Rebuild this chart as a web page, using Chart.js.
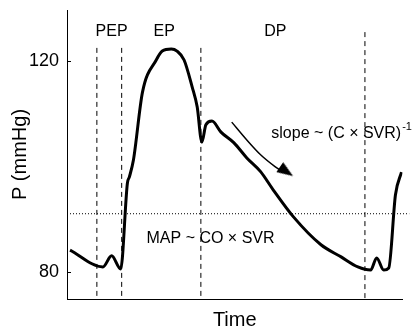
<!DOCTYPE html>
<html>
<head>
<meta charset="utf-8">
<script src="https://cdn.jsdelivr.net/npm/chart.js@4/dist/chart.umd.min.js"></script>
<style>
  html, body { margin: 0; padding: 0; background: #fff; }
  #wrap { width: 412px; height: 329px; }
</style>
</head>
<body>
<div id="wrap"><canvas id="bpChart"></canvas></div>
<script>
// arterial pressure over one cardiac cycle (time in fractions of the axis)
const timePts = [0.009, 0.107, 0.133, 0.160, 0.180, 0.186, 0.198, 0.225, 0.266, 0.284,
  0.311, 0.328, 0.349, 0.373, 0.388, 0.402, 0.414, 0.432, 0.459, 0.497,
  0.536, 0.577, 0.615, 0.675, 0.757, 0.817, 0.867, 0.905, 0.923, 0.944,
  0.959, 0.979, 0.997];
const pressurePts = [84.1, 80.9, 83.0, 80.5, 96.8, 98.0, 101.2, 114.1, 120.2, 121.9,
  122.3, 121.9, 120.2, 115.1, 111.3, 104.6, 107.9, 108.6, 106.5, 104.5,
  101.6, 99.0, 95.5, 90.4, 85.1, 82.8, 80.9, 80.3, 82.6, 80.3,
  80.7, 94.6, 98.9];

// phase boundaries (PEP, EP, DP)
const phaseTimes = [0.089, 0.163, 0.399, 0.888];
const phaseTops = [122.5, 122.5, 122.5, 125.5];

const mapLevel = 91;
const mapRange = [0, 1.02];

// arrow along the diastolic decay
const arrowTime = [0.491, 0.536, 0.577, 0.621, 0.642, 0.654];
const arrowP = [108.4, 105.0, 102.2, 99.9, 99.1, 99.0];

const yTickValues = [80, 120];
const yMin = 74.8, yMax = 129.7;

const FONT = '"Liberation Sans", Arial, Helvetica, sans-serif';

const textLabels = [
  { text: "PEP", t: 0.133, p: 125.6, align: "center" },
  { text: "EP", t: 0.290, p: 125.6, align: "center" },
  { text: "DP", t: 0.621, p: 125.6, align: "center" },
  { text: "slope ~ (C \u00d7 SVR)", sup: "-1", t: 0.609, p: 106.3, align: "left" },
  { text: "MAP ~ CO \u00d7 SVR", t: 0.237, p: 86.3, align: "left" }
];

// narrow arrowhead, drawn pointing up, rotated by chart.js
const head = document.createElement("canvas");
head.width = 12;
head.height = 16;
const hctx = head.getContext("2d");
hctx.fillStyle = "#000";
hctx.beginPath();
hctx.moveTo(6, 0);
hctx.lineTo(12, 16);
hctx.lineTo(0, 16);
hctx.closePath();
hctx.fill();

const datasets = [];

datasets.push({
  data: timePts.map((t, i) => ({ x: t, y: pressurePts[i] })),
  borderColor: "#000",
  borderWidth: 3,
  pointRadius: 0,
  cubicInterpolationMode: "monotone",
  order: 0
});

phaseTimes.forEach((t, i) => {
  datasets.push({
    data: [{ x: t, y: phaseTops[i] }, { x: t, y: yMin }],
    borderColor: "#000",
    borderWidth: 1,
    borderDash: [5, 4],
    pointRadius: 0,
    order: 2
  });
});

datasets.push({
  data: mapRange.map(t => ({ x: t, y: mapLevel })),
  borderColor: "#000",
  borderWidth: 1,
  borderDash: [1, 2],
  pointRadius: 0,
  clip: false,
  order: 3
});

datasets.push({
  data: arrowTime.map((t, i) => ({ x: t, y: arrowP[i] })),
  borderColor: "#000",
  backgroundColor: "#000",
  borderWidth: 1.5,
  tension: 0.3,
  pointStyle: ctx => ctx.dataIndex === arrowTime.length - 1 ? head : false,
  pointRadius: 8,
  pointRotation: 124,
  order: 1
});

const labelPlugin = {
  id: "labels",
  afterDatasetsDraw(chart) {
    const { ctx, chartArea, scales: { x, y } } = chart;
    ctx.save();
    ctx.strokeStyle = "#000";
    ctx.lineWidth = 1;
    yTickValues.forEach(v => {
      const py = Math.round(y.getPixelForValue(v)) + 0.5;
      ctx.beginPath();
      ctx.moveTo(chartArea.left, py);
      ctx.lineTo(chartArea.left + 4, py);
      ctx.stroke();
    });
    ctx.fillStyle = "#000";
    ctx.textBaseline = "middle";
    textLabels.forEach(l => {
      ctx.font = "16px " + FONT;
      ctx.textAlign = l.align;
      const px = x.getPixelForValue(l.t);
      const py = y.getPixelForValue(l.p);
      ctx.fillText(l.text, px, py);
      if (l.sup) {
        const w = ctx.measureText(l.text).width;
        ctx.font = "11px " + FONT;
        ctx.textAlign = "left";
        ctx.fillText(l.sup, px + w + 1, py - 6);
      }
    });
    ctx.restore();
  }
};

new Chart(document.getElementById("bpChart"), {
  type: "line",
  data: { datasets: datasets },
  plugins: [labelPlugin],
  options: {
    responsive: true,
    maintainAspectRatio: false,
    animation: false,
    layout: { padding: { left: 0, top: 10, right: 7, bottom: 0 } },
    plugins: {
      legend: { display: false },
      tooltip: { enabled: false }
    },
    scales: {
      x: {
        type: "linear",
        min: 0,
        max: 1,
        grid: { display: false, drawTicks: false },
        border: { display: true, color: "#000", width: 1 },
        ticks: { display: false },
        title: {
          display: true,
          text: "Time",
          color: "#000",
          font: { family: FONT, size: 20, lineHeight: 0.9 },
          padding: { top: 12, bottom: 0 }
        },
        afterFit: s => { s.height = 30; s.paddingLeft = 0; s.paddingRight = 0; }
      },
      y: {
        min: yMin,
        max: yMax,
        grid: { display: false, drawTicks: false },
        border: { display: true, color: "#000", width: 1 },
        afterBuildTicks: s => { s.ticks = yTickValues.map(v => ({ value: v })); },
        ticks: {
          color: "#000",
          padding: 8,
          font: { family: FONT, size: 18, lineHeight: 1 }
        },
        title: {
          display: true,
          text: "P (mmHg)",
          color: "#000",
          font: { family: FONT, size: 20, lineHeight: 1.2 },
          padding: { top: 8, bottom: 0 }
        },
        afterFit: s => { s.width = 67; s.paddingTop = 0; s.paddingBottom = 0; }
      }
    }
  }
});
</script>
</body>
</html>
